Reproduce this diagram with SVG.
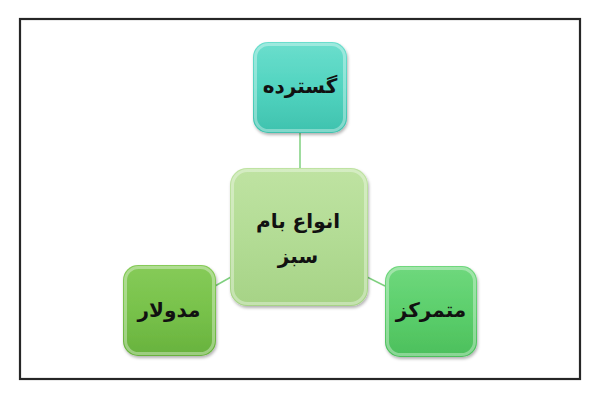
<svg xmlns="http://www.w3.org/2000/svg" width="600" height="400" viewBox="0 0 600 400">
<defs>
<linearGradient id="gTeal" x1="0" y1="0" x2="0" y2="1"><stop offset="0" stop-color="#6bdecd"/><stop offset="0.5" stop-color="#52d4c0"/><stop offset="1" stop-color="#3fc2ae"/></linearGradient>
<linearGradient id="gCenter" x1="0" y1="0" x2="0" y2="1"><stop offset="0" stop-color="#bfe3a2"/><stop offset="0.5" stop-color="#b3dc95"/><stop offset="1" stop-color="#a6d386"/></linearGradient>
<linearGradient id="gLeft" x1="0" y1="0" x2="0" y2="1"><stop offset="0" stop-color="#86cb58"/><stop offset="0.5" stop-color="#78c24b"/><stop offset="1" stop-color="#68b23d"/></linearGradient>
<linearGradient id="gRight" x1="0" y1="0" x2="0" y2="1"><stop offset="0" stop-color="#6fd87d"/><stop offset="0.5" stop-color="#5ccf6c"/><stop offset="1" stop-color="#4cbf5c"/></linearGradient>
<filter id="sh" x="-20%" y="-20%" width="140%" height="140%"><feDropShadow dx="1" dy="2" stdDeviation="1.5" flood-color="#000" flood-opacity="0.3"/></filter>
</defs>
<style>
.lbl{font-family:"DejaVu Sans","Noto Sans",sans-serif;font-weight:bold;fill:#111;text-anchor:middle}
.bev{fill:none;stroke:#ffffff;stroke-opacity:0.35;stroke-width:3}
.edge{stroke:#7fd07f;stroke-width:1.5;fill:none}
</style>
<rect x="20" y="19" width="560" height="360" fill="#fff" stroke="#262626" stroke-width="2.2"/>
<g id="connectors">
<line class="edge" x1="300" y1="133" x2="300" y2="169"/>
<line class="edge" x1="215" y1="286" x2="231" y2="277"/>
<line class="edge" x1="367" y1="277" x2="385" y2="286"/>
</g>
<g id="node-top">
<rect x="253" y="42" width="94" height="91" rx="15" fill="url(#gTeal)" filter="url(#sh)"/>
<rect x="255.5" y="44.5" width="89" height="86" rx="13" class="bev"/>
<text class="lbl" x="300" y="93" font-size="20">گسترده</text>
</g>
<g id="node-center">
<rect x="230" y="168" width="138" height="138" rx="17" fill="url(#gCenter)" filter="url(#sh)"/>
<rect x="232.5" y="170.5" width="133" height="133" rx="15" class="bev"/>
<text class="lbl" x="298" y="228" font-size="20">انواع بام</text>
<text class="lbl" x="298" y="263" font-size="20">سبز</text>
</g>
<g id="node-left">
<rect x="123" y="265" width="93" height="91" rx="15" fill="url(#gLeft)" filter="url(#sh)"/>
<rect x="125.5" y="267.5" width="88" height="86" rx="13" class="bev"/>
<text class="lbl" x="169" y="317" font-size="20">مدولار</text>
</g>
<g id="node-right">
<rect x="385" y="266" width="92" height="91" rx="15" fill="url(#gRight)" filter="url(#sh)"/>
<rect x="387.5" y="268.5" width="87" height="86" rx="13" class="bev"/>
<text class="lbl" x="431" y="317" font-size="20">متمرکز</text>
</g>
</svg>
